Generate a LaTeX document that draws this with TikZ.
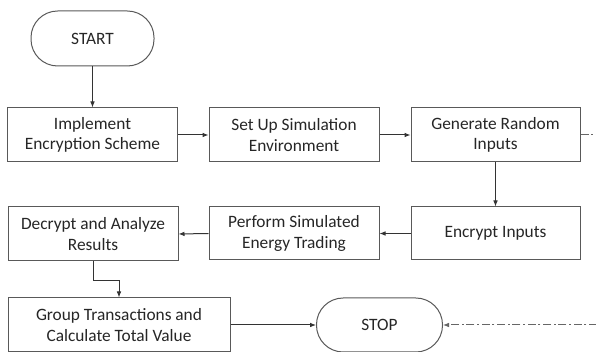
\documentclass[tikz,border=0pt]{standalone}
\usepackage{fontspec}
\setmainfont{Carlito}
\usetikzlibrary{arrows.meta}

\tikzset{every picture/.style={line width=0.75pt}}
\tikzset{
  stepbox/.style={draw=black!65, fill=white, align=center, inner sep=1pt,
    minimum width=127.5pt, minimum height=40.5pt, font=\fontsize{13}{15.5}\selectfont, text=black!85},
  termbox/.style={stepbox, rounded corners=20pt},
  arr/.style={draw=black!80, -{Latex[length=4.5pt,width=3.5pt]}},
  dashdot/.style={draw=black!60, dash pattern=on 6pt off 2pt on 1.5pt off 2pt}
}

\begin{document}
\begin{tikzpicture}[x=0.75pt,y=0.75pt,yscale=-1,xscale=1]
\useasboundingbox (0,0) rectangle (596,352);

%Shape: Terminal [id:start]
\node [termbox, minimum width=92.25pt, minimum height=41.25pt] (start) at (92.5,38.5) {START};
%Shape: Rectangle [id:impl]
\node [stepbox] (impl) at (92.5,135) {Implement\\Encryption Scheme};
%Shape: Rectangle [id:setup]
\node [stepbox] (setup) at (294,135) {Set Up Simulation\\Environment};
%Shape: Rectangle [id:gen]
\node [stepbox, minimum width=126.75pt] (gen) at (495.5,135) {Generate Random\\Inputs};
%Shape: Rectangle [id:enc]
\node [stepbox, minimum width=126.75pt, minimum height=39.75pt] (enc) at (495.5,233.5) {Encrypt Inputs};
%Shape: Rectangle [id:perf]
\node [stepbox, minimum height=39.75pt] (perf) at (294,233.5) {Perform Simulated\\Energy Trading};
%Shape: Rectangle [id:dec]
\node [stepbox] (dec) at (93,234) {Decrypt and Analyze\\Results};
%Shape: Rectangle [id:group]
\node [stepbox, minimum width=166.5pt] (group) at (119,325) {Group Transactions and\\Calculate Total Value};
%Shape: Terminal [id:stop]
\node [termbox, minimum width=94.5pt] (stop) at (379.5,325) {STOP};

%free ends at the right border
\coordinate (outR) at (597,135);
\coordinate (inR) at (597,325);

%Straight Lines
\draw [arr] (start.south) -- (impl.north);
\draw [arr] (impl.east) -- (setup.west);
\draw [arr] (setup.east) -- (gen.west);
\draw [arr] (gen.south) -- (enc.north);
\draw [arr] (enc.west) -- (perf.east);
\draw [arr] (perf.west) -- (dec.east);
\draw [arr] (dec.south) -- ++(0,19) -| (group.north);
\draw [arr] (group.east) -- (stop.west);
%Dash Dot Lines
\draw [dashdot] (gen.east) -- (outR);
\draw [dashdot, arr, draw=black!60] (inR) -- (stop.east);
\end{tikzpicture}
\end{document}
